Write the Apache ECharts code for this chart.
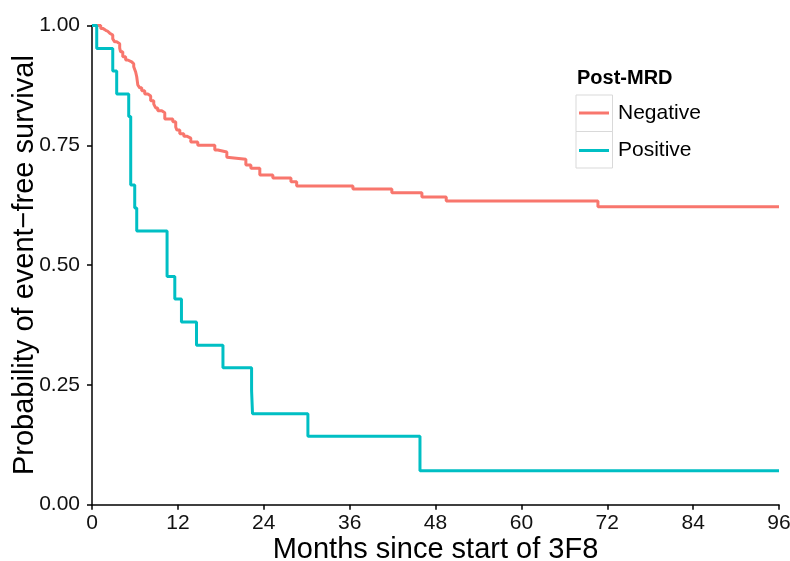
<!DOCTYPE html>
<html>
<head>
<meta charset="utf-8">
<script src="https://cdn.jsdelivr.net/npm/echarts@6/dist/echarts.min.js"></script>
<style>
  html, body { margin: 0; padding: 0; background: #fff; }
  #chart { width: 790px; height: 561px; }
</style>
</head>
<body>
<div id="chart"></div>
<script>
// Kaplan-Meier curves, values (time in months, survival after the step)
var negTime = [0, 1.22, 1.5, 1.92, 2.2, 2.48, 2.9, 3.17, 3.45, 3.87, 4.0, 4.3, 4.7, 5.0, 5.55, 5.83,
    6.1, 6.25, 6.4, 6.67, 6.95, 7.37, 7.8, 8.2, 8.63, 8.9, 9.19, 9.75, 10.17, 11.29, 11.7, 11.85,
    12.27, 12.83, 13.24, 13.8, 14.78, 17.16, 17.58, 18.84, 18.98, 21.5, 22.2, 23.45, 25.27, 27.8,
    28.6, 36.46, 41.9, 46.1, 49.5, 70.7, 96];
var negSurv = [1.0, 0.994, 0.990, 0.988, 0.984, 0.980, 0.972, 0.966, 0.962, 0.953, 0.945, 0.935, 0.928, 0.924, 0.920, 0.914,
    0.903, 0.893, 0.876, 0.870, 0.864, 0.857, 0.853, 0.843, 0.836, 0.828, 0.822, 0.818, 0.805, 0.799, 0.788, 0.782,
    0.774, 0.769, 0.765, 0.757, 0.750, 0.740, 0.736, 0.725, 0.721, 0.709, 0.702, 0.688, 0.682, 0.674,
    0.665, 0.659, 0.651, 0.642, 0.634, 0.622, 0.622];

var posTime = [0, 0.66, 2.9, 3.45, 5.13, 5.41, 5.97, 6.25, 10.49, 11.57, 12.5, 14.6, 18.3, 22.3, 22.43, 30.17, 45.83, 96];
var posSurv = [1.0, 0.952, 0.905, 0.857, 0.810, 0.667, 0.619, 0.571, 0.476, 0.429, 0.381, 0.333, 0.286, 0.238, 0.190, 0.143, 0.071, 0.071];

var groupNames = ['Negative', 'Positive'];
var groupColors = ['#F8766D', '#00BFC4'];
var xTicks = [0, 12, 24, 36, 48, 60, 72, 84, 96];

function pairs(t, s) {
    var out = [];
    for (var i = 0; i < t.length; i++) {
        out.push([t[i], s[i]]);
    }
    return out;
}

var chart = echarts.init(document.getElementById('chart'), null, { renderer: 'canvas' });

var font = 'Liberation Sans, Arial, sans-serif';

var option = {
    animation: false,
    backgroundColor: '#ffffff',
    textStyle: { fontFamily: font },
    grid: { left: 92, right: 11, top: 25.5, bottom: 56.3, containLabel: false, outerBoundsMode: 'none' },
    legend: {
        orient: 'vertical',
        left: 579,
        top: 101,
        padding: 0,
        itemWidth: 30,
        itemHeight: 3,
        itemGap: 13.5,
        icon: 'rect',
        textStyle: { fontFamily: font, fontSize: 21, color: '#000', padding: [0, 0, 0, 4], lineHeight: 24 },
        data: groupNames.map(function (n, i) {
            return { name: n, icon: 'rect', itemStyle: { color: groupColors[i] } };
        })
    },
    graphic: [
        {
            type: 'text', left: 577, top: 68,
            style: { text: 'Post-MRD', font: 'bold 20px ' + font, fill: '#000' }
        },
        {
            type: 'rect', shape: { x: 576, y: 95, width: 36.5, height: 36.5 },
            style: { fill: 'none', stroke: '#d9d9d9', lineWidth: 1 }
        },
        {
            type: 'rect', shape: { x: 576, y: 131.5, width: 36.5, height: 36.5 },
            style: { fill: 'none', stroke: '#d9d9d9', lineWidth: 1 }
        }
    ],
    xAxis: {
        type: 'value',
        min: 0,
        max: 96,
        interval: 12,
        name: 'Months since start of 3F8',
        nameLocation: 'middle',
        nameGap: 31,
        nameMoveOverlap: false,
        nameTextStyle: { fontFamily: font, fontSize: 29, color: '#000' },
        axisLine: { show: true, lineStyle: { color: '#000', width: 1.5 } },
        axisTick: { show: true, length: 5, lineStyle: { color: '#000', width: 1.5 } },
        axisLabel: {
            fontFamily: font, fontSize: 21, color: '#111', margin: 8,
            formatter: function (v) { return xTicks.indexOf(v) >= 0 ? String(v) : ''; }
        },
        splitLine: { show: false }
    },
    yAxis: {
        type: 'value',
        min: 0,
        max: 1,
        interval: 0.25,
        name: 'Probability of event\u2212free survival',
        nameLocation: 'middle',
        nameRotate: 90,
        nameGap: 53,
        nameMoveOverlap: false,
        nameTextStyle: { fontFamily: font, fontSize: 29, color: '#000' },
        axisLine: { show: true, lineStyle: { color: '#000', width: 1.5 } },
        axisTick: { show: true, length: 5, lineStyle: { color: '#000', width: 1.5 } },
        axisLabel: {
            fontFamily: font, fontSize: 21, color: '#111', margin: 12,
            formatter: function (v) { return v.toFixed(2); }
        },
        splitLine: { show: false }
    },
    series: [
        {
            name: groupNames[0],
            type: 'line',
            step: 'end',
            showSymbol: false,
            symbol: 'none',
            data: pairs(negTime, negSurv),
            lineStyle: { color: groupColors[0], width: 3 },
            itemStyle: { color: groupColors[0] },
            z: 2
        },
        {
            name: groupNames[1],
            type: 'line',
            step: 'end',
            showSymbol: false,
            symbol: 'none',
            data: pairs(posTime, posSurv),
            lineStyle: { color: groupColors[1], width: 3 },
            itemStyle: { color: groupColors[1] },
            z: 3
        }
    ]
};

chart.setOption(option);
</script>
</body>
</html>
